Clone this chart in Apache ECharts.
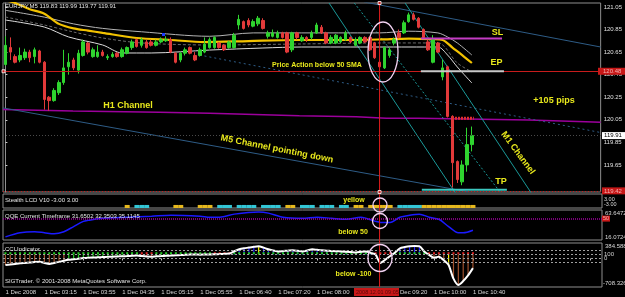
<!DOCTYPE html>
<html><head><meta charset="utf-8">
<script src="https://cdn.jsdelivr.net/npm/echarts@6/dist/echarts.min.js"></script>
<style>html,body{margin:0;padding:0;background:#000;overflow:hidden}#c{width:625px;height:297px}</style>
</head><body><div id="c"></div>
<script>
// ---------- data ----------
const times = ['02:35','02:40','02:45','02:50','02:55','03:00','03:05','03:10','03:15','03:20','03:25','03:30','03:35','03:40','03:45','03:50','03:55','04:00','04:05','04:10','04:15','04:20','04:25','04:30','04:35','04:40','04:45','04:50','04:55','05:00','05:05','05:10','05:15','05:20','05:25','05:30','05:35','05:40','05:45','05:50','05:55','06:05','06:10','06:15','06:20','06:25','06:30','06:35','06:40','06:45','06:50','06:55','07:00','07:05','07:10','07:15','07:20','07:25','07:30','07:35','07:40','07:45','07:50','07:55','08:00','08:05','08:10','08:15','08:20','08:25','08:30','08:35','08:40','08:45','08:50','08:55','09:00','09:05','09:10','09:15','09:20','09:25','09:30','09:35','09:40','09:45','09:50','09:55','10:00','10:05','10:10','10:15','10:20','10:25','10:30','10:35','10:40'];
const firstTickLabel = '1 Dec 2008';
const dayPrefix = '1 Dec ';
const slotCount = 123;   // bars + empty chart shift on the right

const openP = [120.54,120.69,120.61,120.58,120.60,120.65,120.61,120.66,120.56,120.25,
120.22,120.29,120.38,120.52,120.58,120.49,120.62,120.73,120.61,120.61,
120.65,120.60,120.61,120.64,120.61,120.64,120.69,120.76,120.71,120.74,
120.74,120.71,120.74,120.75,120.76,120.64,120.58,120.64,120.69,120.62,
120.62,120.65,120.69,120.69,120.73,120.71,120.69,120.69,120.89,120.92,
120.93,120.88,120.90,120.93,120.79,120.79,120.78,120.82,120.82,120.67,
120.82,120.75,120.78,120.78,120.82,120.87,120.82,120.73,120.73,120.74,
120.76,120.78,120.71,120.73,120.78,120.78,120.73,120.56,120.51,120.62,
120.73,120.82,120.82,120.92,120.98,120.95,120.85,120.74,120.56,120.73,
120.43,120.52,120.08,119.68,119.50,119.65,119.83];
const closeP = [120.71,120.65,120.56,120.62,120.65,120.60,120.67,120.56,120.23,120.22,
120.31,120.38,120.51,120.56,120.51,120.64,120.74,120.65,120.67,120.65,
120.62,120.61,120.63,120.61,120.67,120.69,120.74,120.70,120.76,120.69,
120.71,120.74,120.76,120.76,120.65,120.56,120.64,120.67,120.64,120.58,
120.67,120.72,120.76,120.78,120.69,120.67,120.74,120.80,120.94,120.86,
120.89,120.92,120.95,120.86,120.82,120.82,120.82,120.78,120.65,120.82,
120.78,120.78,120.76,120.82,120.89,120.82,120.73,120.78,120.80,120.78,
120.82,120.74,120.76,120.78,120.74,120.67,120.60,120.52,120.69,120.67,
120.76,120.78,120.91,120.98,120.94,120.87,120.78,120.67,120.76,120.65,
120.51,120.08,119.67,119.52,119.65,119.83,119.91];
const lowP = [120.53,120.58,120.55,120.56,120.58,120.56,120.55,120.55,120.14,120.13,
120.21,120.27,120.36,120.45,120.49,120.46,120.61,120.63,120.60,120.60,
120.61,120.58,120.60,120.60,120.60,120.63,120.67,120.69,120.69,120.68,
120.70,120.70,120.73,120.74,120.64,120.55,120.56,120.62,120.63,120.57,
120.61,120.64,120.68,120.68,120.68,120.66,120.68,120.68,120.85,120.85,
120.87,120.87,120.88,120.85,120.77,120.78,120.77,120.77,120.64,120.65,
120.76,120.74,120.74,120.76,120.81,120.81,120.72,120.72,120.72,120.73,
120.75,120.73,120.70,120.72,120.73,120.66,120.59,120.51,120.50,120.60,
120.71,120.77,120.81,120.91,120.93,120.86,120.77,120.66,120.55,120.64,
120.40,120.07,119.45,119.49,119.47,119.59,119.77];
const highP = [120.79,120.78,120.63,120.69,120.68,120.67,120.69,120.67,120.57,120.26,
120.33,120.40,120.67,120.64,120.60,120.67,120.76,120.74,120.69,120.71,
120.67,120.63,120.65,120.65,120.69,120.70,120.76,120.77,120.78,120.76,
120.76,120.76,120.78,120.79,120.78,120.65,120.65,120.69,120.70,120.65,
120.69,120.78,120.78,120.79,120.74,120.72,120.75,120.82,120.98,120.93,
120.95,120.94,120.97,120.95,120.84,120.85,120.84,120.83,120.83,120.83,
120.83,120.80,120.79,120.84,120.91,120.89,120.83,120.80,120.81,120.79,
120.84,120.79,120.78,120.79,120.79,120.79,120.74,120.58,120.70,120.69,
120.78,120.85,120.93,121.00,121.00,120.96,120.86,120.76,120.80,120.74,
120.58,120.53,120.09,119.69,119.69,119.98,119.99];

const priceTicks = [119.65,119.85,120.05,120.25,120.45,120.65,120.85,121.05];

// moving average + envelopes [bar index, price]
const sma50 = [[0,121.11],[2,121.085],[5,121.03],[8,120.99],[11,120.90],[14,120.86],[17,120.84],[20,120.82],[27,120.775],[34,120.757],[41,120.739],[50,120.748],[60,120.757],[70,120.757],[77,120.762],[83,120.77],[88,120.765],[90,120.757],[92,120.69],[94,120.624],[96,120.553]];
const envUpper = [[0,121.02],[8,120.96],[14,120.90],[20,120.86],[28,120.83],[42,120.79],[51,120.82],[61,120.82],[71,120.82],[77,120.82],[83,120.835],[89,120.82],[91,120.784],[93,120.731],[96,120.624]];
const envLower = [[0,120.934],[8,120.872],[13,120.784],[20,120.713],[24,120.642],[30,120.642],[42,120.668],[53,120.686],[61,120.695],[77,120.695],[89,120.695],[91,120.624],[93,120.518],[96,120.376]];
const envMid = [[0,120.961],[8,120.89],[14,120.828],[20,120.775],[28,120.731],[42,120.713],[61,120.722],[77,120.731],[89,120.731],[93,120.553],[96,120.474]];

// drawn objects [bar index, price]
const m5Lower = [[-0.5,120.155],[95.5,119.41]];
const m5Upper = [[73.8,121.094],[122.5,120.695]];
const m5Dash = [[39.95,120.624],[122.5,119.937]];
const m1A = [[82.25,121.085],[108.5,119.383]];
const m1B = [[66.6,121.085],[92.9,119.383]];
const m1Dot = [[71.8,121.085],[101.8,119.41]];
const h1Line = [[-0.5,120.141],[13.9,120.128],[31.7,120.116],[42.0,120.108],[60.5,120.086],[72.2,120.077],[78.4,120.063],[85.1,120.063],[107.7,120.048],[119.4,120.033],[122.5,120.028]];
const slLine = [[85.5,120.77],[102.2,120.77]];
const epLine = [[85.5,120.48],[102.6,120.48]];
const tpLine = [[85.7,119.43],[103.2,119.43]];
const redDots = [[91.9,120.063],[96.4,120.063]];
const entryPrice = 120.48, bidPrice = 119.91, lowPrice = 119.42;
const cursorBar = 77;

// Stealth LCD states per bar (. none, c cyan, y yellow)
const stealthRuns = [[25,'.'],[1,'y'],[1,'.'],[3,'c'],[5,'.'],[2,'y'],[3,'.'],[3,'y'],[1,'.'],[3,'c'],[1,'.'],[4,'c'],[1,'.'],[4,'c'],[1,'.'],[2,'y'],[1,'.'],[3,'c'],[1,'.'],[3,'c'],[1,'.'],[2,'c'],[1,'.'],[2,'y'],[1,'.'],[5,'y'],[1,'.'],[5,'c'],[11,'y']];

// QQE [bar index, value]
const qqeLine = [[0,21.0],[3,27.6],[6,29.2],[8,27.6],[10,25.9],[12,29.2],[14,37.4],[16,45.6],[17,47.2],[20,50.5],[25,52.2],[30,53.8],[34,55.4],[40,53.8],[42,52.2],[44,52.2],[47,57.1],[52,60.4],[54,58.7],[57,52.2],[61,50.5],[64,52.2],[67,50.5],[70,48.9],[73,52.2],[76,45.6],[77,44.0],[79,44.0],[81,52.2],[83,55.4],[85,57.1],[87,52.2],[89,48.9],[91,37.4],[93,27.6],[94,27.6],[96,31.65]];
const qqeMin = 16.0724, qqeMax = 63.6472, qqeLevel = 50;

// CCI per bar
const cci = [-162,-150,-135,-120,-110,-100,-90,-84,-110,-136,
-110,-84,-55,-32,-20,-5,10,20,25,30,
35,40,46,50,55,60,66,72,60,50,
46,55,60,66,72,80,85,92,98,98,
95,98,98,105,110,118,124,180,228,254,
270,290,306,270,228,200,176,185,195,202,
190,176,200,228,215,202,195,185,180,176,
165,158,150,165,176,140,98,-110,-32,60,
150,254,285,306,310,306,176,90,20,46,
-40,-162,-500,-656,-560,-420,-240];
const cciHistRuns = [[13,'b'],[15,'g'],[3,'r'],[12,'g'],[4,'u'],[5,'u'],[1,'y'],[23,'u'],[4,'n'],[7,'u'],[4,'b'],[1,'y'],[5,'b']];
const cciDotRuns = [[28,'g'],[3,'r'],[12,'g'],[4,'r'],[29,'g'],[4,'r'],[7,'g'],[10,'r']];
const cciLevels = [200,100,0,-100];
const cciMin = -708.326, cciMax = 384.588, cciBase = 100, cciDotLevel = 130;

// ---------- build ----------
const expand = runs => runs.map(r => r[1].repeat(r[0])).join('');
const stealth = expand(stealthRuns);
const cciHist = expand(cciHistRuns);
const cciDot = expand(cciDotRuns);
const cats = times.concat(new Array(slotCount - times.length).fill(''));
const FF = '"Liberation Sans", Arial, sans-serif';
const YEL = '#e8e81c';
const histPal = {b:'#a0522d', u:'#2020ff', y:'#f0f000', g:'#22c822', r:'#e02222'};
const dotPal = {g:'#22cc22', r:'#e02222'};

function ln(data, color, width, type, extra) {
  return Object.assign({type:'line', xAxisIndex:1, yAxisIndex:0, data:data, symbol:'none', silent:true,
    lineStyle:{color:color, width:width, type:type||'solid'}, z:2}, extra||{});
}

const chart = echarts.init(document.getElementById('c'), null, {renderer:'canvas'});
const gridBase = {left:3, width:599, show:true, borderColor:'#8e8e8e', borderWidth:1};
const option = {
  backgroundColor:'#000',
  animation:false,
  textStyle:{fontFamily:FF},
  grid:[
    Object.assign({top:3, height:189}, gridBase),
    Object.assign({top:194, height:14}, gridBase),
    Object.assign({top:210, height:30}, gridBase),
    Object.assign({top:243, height:44}, gridBase)
  ],
  xAxis:[
    {type:'category', gridIndex:0, data:cats, show:false},
    {type:'value', gridIndex:1-1, min:-0.5, max:slotCount-0.5, show:false},
    {type:'category', gridIndex:1, data:cats, show:false},
    {type:'category', gridIndex:2, data:cats, show:false},
    {type:'category', gridIndex:3, data:cats, axisLine:{show:false},
      axisTick:{show:true, interval:7, alignWithLabel:true, length:2, lineStyle:{color:'#c8c8c8'}},
      axisLabel:{interval:7, align:'left', fontSize:6, color:'#d8d8d8', margin:2, fontFamily:FF,
        formatter:(v, i) => i === 0 ? firstTickLabel : (v ? dayPrefix + v : '')},
      splitLine:{show:false}}
  ],
  yAxis:[
    {type:'value', gridIndex:0, position:'right', min:119.41, max:121.085, scale:true,
      axisLine:{show:true, lineStyle:{color:'#8e8e8e'}},
      axisTick:{show:true, length:2, customValues:priceTicks, lineStyle:{color:'#c8c8c8'}},
      axisLabel:{fontSize:6, color:'#e0e0e0', margin:3, fontFamily:FF, customValues:priceTicks, formatter:v => v.toFixed(2)},
      splitLine:{show:false}},
    {type:'value', gridIndex:1, min:0, max:4.6, show:false},
    {type:'value', gridIndex:2, min:qqeMin, max:qqeMax, show:false},
    {type:'value', gridIndex:3, position:'right', min:cciMin, max:cciMax, scale:true,
      axisLine:{show:false}, axisTick:{show:false},
      axisLabel:{fontSize:6, color:'#d0d0d0', margin:2, fontFamily:FF, customValues:cciLevels},
      splitLine:{show:false}}
  ],
  series:[
    ln(h1Line, '#9c009c', 1.5),
    ln(m5Lower, '#2e5c86', 1),
    ln(m5Upper, '#2e5c86', 1),
    ln(m5Dash, '#2e5c86', 1, [2,3]),
    ln(m1A, '#1a9898', 1),
    ln(m1B, '#1a9898', 1),
    ln(m1Dot, '#1a9898', 1, [2,2]),
    ln(envMid, '#6a6a6a', 1, [3,2], {smooth:0.3}),
    ln(envUpper, '#b4b4b4', 1, 'solid', {smooth:0.3}),
    ln(envLower, '#dcdcdc', 1, 'solid', {smooth:0.3}),
    ln(sma50, '#f2c200', 2.2, 'solid', {smooth:0.3, z:3}),
    {type:'candlestick', xAxisIndex:0, yAxisIndex:0, z:4, barWidth:3,
      data: openP.map((o,i) => [o, closeP[i], lowP[i], highP[i]]),
      itemStyle:{color:'#2fd42f', color0:'#e23a3a', borderColor:'#2fd42f', borderColor0:'#e23a3a', borderWidth:1},
      markLine:{symbol:['none','none'], silent:true, animation:false, label:{show:false},
        data:[
          {yAxis:entryPrice, lineStyle:{color:'#c81c1c', width:1, type:'solid'}},
          {yAxis:lowPrice, lineStyle:{color:'#c81c1c', width:1, type:[1,2]}},
          {yAxis:bidPrice, lineStyle:{color:'#4a4a4a', width:1, type:[1,2]}}
        ]}},
    ln(slLine, '#c43cc4', 2, 'solid', {z:5}),
    ln(epLine, '#c8c8c8', 2, 'solid', {z:5}),
    ln(tpLine, '#3cc8c0', 2, 'solid', {z:5}),
    ln(redDots, '#e03030', 3, [2,1], {z:5}),
    {type:'bar', xAxisIndex:2, yAxisIndex:1, barWidth:5, silent:true,
      data: stealth.split('').map(s => s === '.' ? '-' : {value:1, itemStyle:{color: s === 'c' ? '#33c6d6' : '#e6b81e'}})},
    {type:'line', xAxisIndex:3, yAxisIndex:2, data:qqeLine, symbol:'none', smooth:0.3, silent:true,
      lineStyle:{color:'#1a1aff', width:1.5}, z:3,
      markLine:{symbol:['none','none'], silent:true, label:{show:false},
        data:[{yAxis:qqeLevel, lineStyle:{color:'#a000a0', width:1.5, type:[1,1]}}]}},
    {type:'custom', xAxisIndex:4, yAxisIndex:3, silent:true, z:2,
      data: cci.map((v,i) => [i, v]),
      renderItem: function(params, api) {
        const i = params.dataIndex;
        const hc = histPal[cciHist[i]];
        const dc = dotPal[cciDot[i]];
        const p0 = api.coord([i, cciBase]);
        const p1 = api.coord([i, cci[i]]);
        const pd = api.coord([i, cciDotLevel]);
        const ch = [];
        if (hc) ch.push({type:'line', shape:{x1:p0[0], y1:p0[1], x2:p1[0], y2:p1[1]}, style:{stroke:hc, lineWidth:1.2}});
        if (dc) ch.push({type:'rect', shape:{x:pd[0]-1, y:pd[1]-1, width:2, height:2}, style:{fill:dc}});
        return {type:'group', children:ch};
      }},
    {type:'line', xAxisIndex:4, yAxisIndex:3, data:cci, symbol:'none', smooth:0.25, silent:true, z:4,
      lineStyle:{color:'#ffffff', width:2},
      markLine:{symbol:['none','none'], silent:true, label:{show:false},
        data: cciLevels.map(v => ({yAxis:v, lineStyle:{color:'#a0a0a0', width:1, type:[2,2]}}))}}
  ]
};
chart.setOption(option);

// ---------- annotations ----------
function txt(x, y, s, font, fill, align, rot) {
  const a = align || 'center';
  return {type:'text', x:x, y:y, rotation:rot||0, z:100, silent:true,
    style:{x:0, y:0, text:s, font:font, fill:fill, align:a, textAlign:a, verticalAlign:'middle', textVerticalAlign:'middle'}};
}
const small = '6px ' + FF, tiny = '5.5px ' + FF;
const b9 = 'bold 9px ' + FF, b7 = 'bold 7px ' + FF;
const xc = chart.convertToPixel({xAxisIndex:0}, cursorBar);
const yEntry = chart.convertToPixel({yAxisIndex:0}, entryPrice);
const yBid = chart.convertToPixel({yAxisIndex:0}, bidPrice);
const yLow = chart.convertToPixel({yAxisIndex:0}, lowPrice);
const yQ50 = chart.convertToPixel({yAxisIndex:2}, qqeLevel);
const ring = {fill:'none', stroke:'#f2d2f2', lineWidth:1.3};

const els = [
  // cursor line
  {type:'line', z:90, silent:true, shape:{x1:xc, y1:3, x2:xc, y2:287}, style:{stroke:'#e01c1c', lineWidth:1}},
  {type:'rect', z:91, silent:true, shape:{x:xc-1.5, y:1.5, width:3, height:3}, style:{fill:'#c81c1c', stroke:'#ffffff', lineWidth:0.8}},
  {type:'rect', z:91, silent:true, shape:{x:xc-1.5, y:190.5, width:3, height:3}, style:{fill:'#c81c1c', stroke:'#ffffff', lineWidth:0.8}},
  // entry line end markers
  {type:'rect', z:91, silent:true, shape:{x:2, y:yEntry-1.5, width:3, height:3}, style:{fill:'#c81c1c', stroke:'#ffffff', lineWidth:0.8}},
  // price boxes on the right axis
  {type:'rect', z:95, silent:true, shape:{x:598, y:yEntry-3.5, width:27, height:7}, style:{fill:'#c81818'}},
  txt(603, yEntry, entryPrice.toFixed(2), small, '#f4b0b0', 'left'),
  {type:'rect', z:95, silent:true, shape:{x:602, y:yBid-3.5, width:23, height:7}, style:{fill:'#ffffff'}},
  txt(604, yBid, bidPrice.toFixed(2), small, '#000000', 'left'),
  {type:'rect', z:95, silent:true, shape:{x:602, y:yLow-3.5, width:23, height:7}, style:{fill:'#c81818'}},
  txt(604, yLow, lowPrice.toFixed(2), small, '#f4b0b0', 'left'),
  // cursor time box
  {type:'rect', z:95, silent:true, shape:{x:354, y:288, width:45, height:8}, style:{fill:'#c81818'}},
  txt(356, 292, '2008.12.01 09:05', tiny, '#5a0808', 'left'),
  // pane headers
  txt(5, 6.5, 'EURJPY,M5 119.83 119.99 119.77 119.91', small, '#e4e4e4', 'left'),
  txt(5, 200.5, 'Stealth LCD V10 -3.00 3.00', small, '#e4e4e4', 'left'),
  txt(5, 216, 'QQE Current Timeframe 31.6502 32.3503 35.1145', small, '#e4e4e4', 'left'),
  txt(5, 249, 'CCI Indicator', small, '#e4e4e4', 'left'),
  txt(5, 281, 'SIGTrader. \u00a9 2001-2008 MetaQuotes Software Corp.', small, '#e4e4e4', 'left'),
  // sub pane scale labels
  txt(604, 199, '3.00', tiny, '#d8d8d8', 'left'),
  txt(604, 204.5, '-3.00', tiny, '#d8d8d8', 'left'),
  txt(605, 213.5, '63.6472', small, '#d8d8d8', 'left'),
  {type:'rect', z:95, silent:true, shape:{x:602, y:yQ50-3, width:8, height:6}, style:{fill:'#c81818'}},
  txt(603, yQ50, '50', tiny, '#f4b0b0', 'left'),
  txt(605, 237, '16.0724', small, '#d8d8d8', 'left'),
  txt(605, 246.5, '384.588', small, '#d8d8d8', 'left'),
  txt(603, 283, '-708.326', small, '#d8d8d8', 'left'),
  // small marker
  {type:'rect', z:60, silent:true, shape:{x:162, y:33, width:3, height:3}, style:{fill:'#1a3cff'}},
  // yellow annotations
  txt(317, 65, 'Price Action below 50 SMA', b7, YEL),
  txt(128, 105.5, 'H1 Channel', b9, YEL),
  txt(277, 149, 'M5 Channel pointing down', b9, YEL, 'center', -0.195),
  txt(497.5, 32.5, 'SL', b9, YEL),
  txt(496.5, 62.5, 'EP', b9, YEL),
  txt(554, 101, '+105 pips', b9, YEL),
  txt(518, 153, 'M1 Channel', b9, YEL, 'center', -0.94),
  txt(501, 181.5, 'TP', b9, YEL),
  txt(354, 200.5, 'yellow', b7, YEL),
  txt(353, 232, 'below 50', b7, YEL),
  txt(353.5, 274.5, 'below -100', b7, YEL),
  // rings
  {type:'ellipse', z:98, silent:true, shape:{cx:383, cy:52, rx:15, ry:30}, style:ring},
  {type:'circle', z:98, silent:true, shape:{cx:380, cy:205, r:7}, style:ring},
  {type:'circle', z:98, silent:true, shape:{cx:380, cy:221, r:7.5}, style:ring},
  {type:'ellipse', z:98, silent:true, shape:{cx:380, cy:258, rx:12, ry:13.5}, style:ring}
];
chart.setOption({graphic:{elements:els}});
</script>
</body></html>
